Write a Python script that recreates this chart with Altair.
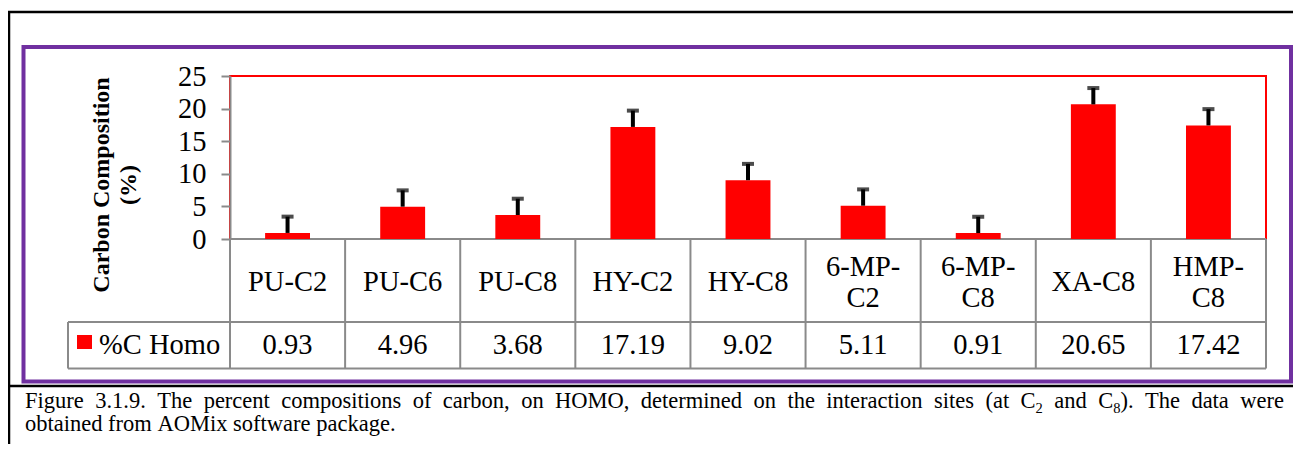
import altair as alt
import pandas as pd

# ---------------- data ----------------
categories = ["PU-C2", "PU-C6", "PU-C8", "HY-C2", "HY-C8", "6-MP-C2", "6-MP-C8", "XA-C8", "HMP-C8"]
header_lines = [["PU-C2"], ["PU-C6"], ["PU-C8"], ["HY-C2"], ["HY-C8"],
                ["6-MP-", "C2"], ["6-MP-", "C8"], ["XA-C8"], ["HMP-", "C8"]]
values = [0.93, 4.96, 3.68, 17.19, 9.02, 5.11, 0.91, 20.65, 17.42]
value_labels = ["0.93", "4.96", "3.68", "17.19", "9.02", "5.11", "0.91", "20.65", "17.42"]
errors = [2.5, 2.5, 2.5, 2.5, 2.5, 2.5, 2.5, 2.5, 2.5]
series_name = "%C Homo"
y_title_lines = ["Carbon Composition", "(%)"]
y_ticks = [0, 5, 10, 15, 20, 25]
caption_line1 = ("Figure 3.1.9. The percent compositions of carbon, on HOMO, determined on "
                 "the interaction sites (at C_2 and C_8). The data were")
caption_line2 = "obtained from AOMix software package."

# ---------------- layout / style ----------------
W, H = 1036, 163
FONT = "Liberation Serif"
GRAY = "#8a8a8a"
RED = "#ff0000"
PURPLE = "#7030a0"
step = W / len(categories)
TABLE_FS = 28.5
CAP_FS, SUB_FS, SUB_DY = 22.5, 14.5, 5
LETTER_SP = 0.0

one = pd.DataFrame({"a": [0]})

def xcat():
    return alt.X("cat:N", sort=categories,
                 scale=alt.Scale(domain=categories, paddingInner=0.61, paddingOuter=0.305),
                 axis=None)

def yaxis():
    return alt.Axis(values=y_ticks, title=None, grid=False, domainColor=GRAY,
                    domainWidth=2, tickColor=GRAY, tickWidth=2, tickSize=9,
                    labelFont=FONT, labelFontSize=28.5, labelColor="black",
                    labelPadding=15, labelOverlap=False, tickCount=6)

# ---------------- bars + error bars ----------------
df = pd.DataFrame({"cat": categories, "value": values, "err": errors})
df["top"] = df["value"] + df["err"]
yscale = alt.Scale(domain=[0, 25], nice=False, zero=True)

bars = alt.Chart(df).mark_bar(color=RED).encode(
    x=xcat(), y=alt.Y("value:Q", scale=yscale, axis=yaxis()))
stems = alt.Chart(df).mark_rule(color="black", strokeWidth=4).encode(
    x=xcat(), y=alt.Y("value:Q", scale=yscale, axis=yaxis()), y2="top:Q")
caps = alt.Chart(df).mark_tick(color="black", size=12, thickness=4, orient="horizontal").encode(
    x=xcat(), y=alt.Y("top:Q", scale=yscale, axis=yaxis()))
core = alt.layer(bars, stems, caps)

# ---------------- frame lines & table grid ----------------
segs = []
def seg(x, x2, y, y2, c, w):
    segs.append({"x": x, "x2": x2, "y": y, "y2": y2, "c": c, "w": w})

seg(-222, 1063, -64, -64, "black", 2.5)
seg(-221, -221, -64, 368, "black", 2.5)
seg(-222, 1063, 310, 310, "black", 2.5)
seg(0, W, H, H, GRAY, 2)
seg(-162, W, 246, 246, GRAY, 2)
seg(-162, W, 292.5, 292.5, GRAY, 2)
for i in range(len(categories) + 1):
    seg(i * step, i * step, H, 292.5, GRAY, 2)
seg(-162, -162, 246, 292.5, GRAY, 2)
segdf = pd.DataFrame(segs)
lines = alt.Chart(segdf).mark_rule().encode(
    x=alt.X("x:Q", scale=None), x2="x2:Q",
    y=alt.Y("y:Q", scale=None), y2="y2:Q",
    color=alt.Color("c:N", scale=None),
    strokeWidth=alt.StrokeWidth("w:Q", scale=None),
)

purple = alt.Chart(one).mark_rect(fill="transparent", stroke=PURPLE, strokeWidth=4).encode(
    x=alt.value(-206.5), x2=alt.value(1061), y=alt.value(-29), y2=alt.value(305.5))

# ---------------- table texts ----------------
hrows = []
for cat, ls in zip(categories, header_lines):
    n = len(ls)
    for k, t in enumerate(ls):
        hrows.append({"cat": cat, "t": t, "py": 206 + (k - (n - 1) / 2) * 31})
header = alt.Chart(pd.DataFrame(hrows)).mark_text(
    font=FONT, fontSize=TABLE_FS, color="black", align="center", baseline="middle").encode(
    x=xcat(), y=alt.Y("py:Q", scale=None), text="t:N")

vdf = pd.DataFrame({"cat": categories, "t": value_labels})
vals = alt.Chart(vdf).mark_text(
    font=FONT, fontSize=TABLE_FS, color="black", align="center", baseline="middle").encode(
    x=xcat(), y=alt.value(269), text="t:N")

legend_sq = alt.Chart(one).mark_rect(color=RED).encode(
    x=alt.value(-153), x2=alt.value(-138), y=alt.value(259), y2=alt.value(273))
legend_tx = alt.Chart(pd.DataFrame({"t": [series_name]})).mark_text(
    font=FONT, fontSize=TABLE_FS, color="black", align="left", baseline="middle").encode(
    x=alt.value(-131), y=alt.value(269), text="t:N")

# ---------------- y title ----------------
yt1 = alt.Chart(pd.DataFrame({"t": [y_title_lines[0]]})).mark_text(
    font=FONT, fontSize=24, fontWeight="bold", angle=270, align="center",
    baseline="alphabetic", color="black").encode(x=alt.value(-121), y=alt.value(109), text="t:N")
yt2 = alt.Chart(pd.DataFrame({"t": [y_title_lines[1]]})).mark_text(
    font=FONT, fontSize=24, fontWeight="bold", angle=270, align="center",
    baseline="alphabetic", color="black").encode(x=alt.value(-94), y=alt.value(109), text="t:N")

# ---------------- caption (first line justified) ----------------
TW = {' ': 250, '!': 333, '"': 408, '#': 500, '$': 500, '%': 833, '&': 778, "'": 180,
      '(': 333, ')': 333, '*': 500, '+': 564, ',': 250, '-': 333, '.': 250, '/': 278,
      ':': 278, ';': 278, '?': 444, '@': 921,
      'A': 722, 'B': 667, 'C': 667, 'D': 722, 'E': 611, 'F': 556, 'G': 722, 'H': 722,
      'I': 333, 'J': 389, 'K': 722, 'L': 611, 'M': 889, 'N': 722, 'O': 722, 'P': 556,
      'Q': 722, 'R': 667, 'S': 556, 'T': 611, 'U': 722, 'V': 722, 'W': 944, 'X': 722,
      'Y': 722, 'Z': 611,
      'a': 444, 'b': 500, 'c': 444, 'd': 500, 'e': 444, 'f': 333, 'g': 500, 'h': 500,
      'i': 278, 'j': 278, 'k': 500, 'l': 278, 'm': 778, 'n': 500, 'o': 500, 'p': 500,
      'q': 500, 'r': 333, 's': 389, 't': 278, 'u': 500, 'v': 500, 'w': 722, 'x': 500,
      'y': 500, 'z': 444}

def pieces_of(word):
    out, buf, i = [], "", 0
    while i < len(word):
        if word[i] == "_" and i + 1 < len(word):
            if buf:
                out.append((buf, False))
                buf = ""
            out.append((word[i + 1], True))
            i += 2
        else:
            buf += word[i]
            i += 1
    if buf:
        out.append((buf, False))
    return out

def pw(t, sub):
    return sum(TW.get(c, 500) for c in t) * (SUB_FS if sub else CAP_FS) / 1000.0

def layout_line(line, x0, x1, baseline, justify):
    words = [pieces_of(w) for w in line.split(" ")]
    widths = [sum(pw(t, s) for t, s in w) for w in words]
    if justify:
        gap = (x1 - x0 - sum(widths)) / (len(words) - 1)
    else:
        gap = pw(" ", False)
    rows, x = [], x0
    for w, wd in zip(words, widths):
        cx = x
        for t, s in w:
            rows.append({"px": cx, "py": baseline + (SUB_DY if s else 0), "t": t, "sub": s})
            cx += pw(t, s)
        x += wd + gap
    return rows

caprows = pd.DataFrame(layout_line(caption_line1, -205, 1054, 332, True) +
                       layout_line(caption_line2, -205, 1054, 355, False))
cap_main = alt.Chart(caprows[~caprows["sub"]]).mark_text(
    font=FONT, fontSize=CAP_FS, align="left", baseline="alphabetic", color="black").encode(
    x=alt.X("px:Q", scale=None), y=alt.Y("py:Q", scale=None), text="t:N")
cap_sub = alt.Chart(caprows[caprows["sub"]]).mark_text(
    font=FONT, fontSize=SUB_FS, align="left", baseline="alphabetic", color="black").encode(
    x=alt.X("px:Q", scale=None), y=alt.Y("py:Q", scale=None), text="t:N")

chart = alt.layer(
    purple, lines, core, header, vals, legend_sq, legend_tx, yt1, yt2, cap_main, cap_sub
).resolve_scale(x="independent", y="independent").properties(
    width=W, height=H,
    padding={"left": 222, "top": 68, "right": 27, "bottom": 205},
    autosize=alt.AutoSizeParams(type="none"),
    background="white",
).configure_view(stroke=RED, strokeWidth=2)

chart.save("out.html", embed_options={"renderer": "svg", "actions": False})
